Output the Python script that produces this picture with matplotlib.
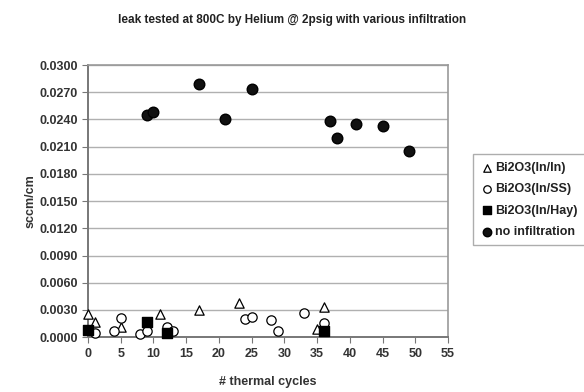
import matplotlib
matplotlib.use("Agg")
import matplotlib.pyplot as plt
from matplotlib.ticker import FormatStrFormatter

plt.rcParams['font.family'] = ['Liberation Sans', 'DejaVu Sans']
plt.rcParams['font.weight'] = 'bold'

# Bi2O3(In/In)
tri_x = [0, 1, 5, 11, 17, 23, 35, 36]
tri_y = [0.0025, 0.0017, 0.0011, 0.0025, 0.0030, 0.0038, 0.0009, 0.0033]
# Bi2O3(In/SS)
circ_x = [1, 4, 5, 8, 9, 12, 13, 24, 25, 28, 29, 33, 36]
circ_y = [0.0005, 0.0007, 0.0021, 0.0003, 0.0007, 0.0011, 0.0007,
          0.0020, 0.0022, 0.0019, 0.0007, 0.0027, 0.0016]
# Bi2O3(In/Hay)
sq_x = [0, 9, 12, 36]
sq_y = [0.0008, 0.0017, 0.0005, 0.0007]
# no infiltration
no_x = [9, 10, 17, 21, 25, 37, 38, 41, 45, 49]
no_y = [0.0245, 0.0248, 0.0279, 0.0240, 0.0274, 0.0238, 0.0220, 0.0235, 0.0233, 0.0205]

fig = plt.figure(figsize=(5.84, 3.92), dpi=100)
ax = fig.add_axes([0.1507, 0.140, 0.6164, 0.694])

ax.scatter(tri_x, tri_y, marker='^', s=45, facecolors='white', edgecolors='black',
           linewidths=0.9, label='Bi2O3(In/In)', clip_on=False, zorder=3)
ax.scatter(circ_x, circ_y, marker='o', s=45, facecolors='white', edgecolors='black',
           linewidths=0.9, label='Bi2O3(In/SS)', clip_on=False, zorder=3)
ax.scatter(sq_x, sq_y, marker='s', s=42, facecolors='black', edgecolors='black',
           label='Bi2O3(In/Hay)', clip_on=False, zorder=4)
ax.scatter(no_x, no_y, marker='o', s=58, facecolors='#111111', edgecolors='black',
           label='no infiltration', clip_on=False, zorder=3)

ax.set_xlim(0, 55)
ax.set_ylim(0, 0.03)
ax.set_xticks(range(0, 56, 5))
ax.set_yticks([i * 0.003 for i in range(11)])
ax.yaxis.set_major_formatter(FormatStrFormatter('%.4f'))
ax.grid(axis='y', color='#b0b0b0', linewidth=1)
ax.set_axisbelow(True)

for side in ['top', 'right']:
    ax.spines[side].set_color('#999999')
    ax.spines[side].set_linewidth(1.2)
for side in ['left', 'bottom']:
    ax.spines[side].set_color('#777777')
    ax.spines[side].set_linewidth(1.4)
ax.tick_params(colors='#777777', labelcolor='#333333', labelsize=9, length=4)

ax.set_xlabel('# thermal cycles', fontsize=9, fontweight='bold', color='#333333', labelpad=12)
ax.set_ylabel('sccm/cm', fontsize=9, fontweight='bold', color='#333333', labelpad=2)
fig.text(0.5, 0.948, 'leak tested at 800C by Helium @ 2psig with various infiltration',
         ha='center', va='center', fontsize=8.5, fontweight='bold', color='#222222')

leg = fig.legend(loc='center left', bbox_to_anchor=(0.800, 0.49), fontsize=9,
                 frameon=True, fancybox=False, edgecolor='#999999',
                 handletextpad=0.1, borderpad=0.6, labelspacing=0.75,
                 handlelength=1.0, markerscale=0.8)
for t in leg.get_texts():
    t.set_color('#222222')

fig.savefig('out.png', dpi=100)
